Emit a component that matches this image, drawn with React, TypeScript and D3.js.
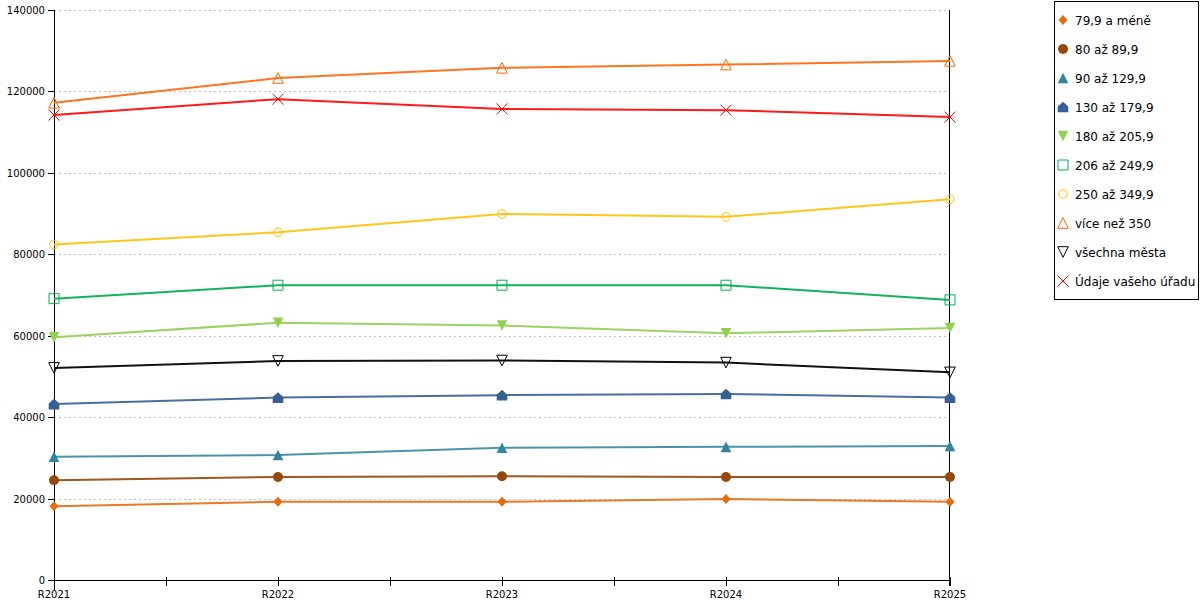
import { useEffect, useRef } from 'react';
import * as d3 from 'd3';

const years = ['R2021', 'R2022', 'R2023', 'R2024', 'R2025'];
const yTicks = [0, 20000, 40000, 60000, 80000, 100000, 120000, 140000];

const seriesNames = [
  '79,9 a méně',
  '80 až 89,9',
  '90 až 129,9',
  '130 až 179,9',
  '180 až 205,9',
  '206 až 249,9',
  '250 až 349,9',
  'více než 350',
  'všechna města',
  'Údaje vašeho úřadu',
];

const v79 = [18100, 19200, 19200, 19900, 19200];
const v80 = [24500, 25300, 25500, 25300, 25300];
const v90 = [30300, 30700, 32500, 32700, 32900];
const v130 = [43200, 44800, 45400, 45700, 44800];
const v180 = [59600, 63200, 62500, 60600, 61900];
const v206 = [69100, 72400, 72400, 72400, 68800];
const v250 = [82400, 85400, 89900, 89200, 93500];
const v350 = [117200, 123300, 125800, 126600, 127500];
const vAll = [52100, 53800, 53900, 53400, 51000];
const vOffice = [114200, 118100, 115700, 115400, 113700];

const seriesValues = [v79, v80, v90, v130, v180, v206, v250, v350, vAll, vOffice];
const seriesColors = [
  '#e46c0a', '#974706', '#31859c', '#376092', '#92d050',
  '#00b050', '#ffc000', '#ff6600', '#000000', '#ff0000',
];
const lineColors = [
  '#e8782a', '#a0561e', '#4a93a8', '#4a6f9c', '#9dd262',
  '#12b35c', '#ffc51a', '#ff7420', '#111111', '#ff1a1a',
];
const markerKinds = [
  'diamond', 'circle', 'triangle', 'house', 'triangleDown',
  'squareOpen', 'circleOpen', 'triangleOpen', 'triangleDownOpen', 'cross',
];

function markerPath(kind: string): string {
  const p = d3.path();
  switch (kind) {
    case 'diamond':
      p.moveTo(0, -5); p.lineTo(4.5, 0); p.lineTo(0, 5); p.lineTo(-4.5, 0); p.closePath();
      break;
    case 'circle':
      p.arc(0, 0, 5, 0, Math.PI * 2);
      break;
    case 'circleOpen':
      p.arc(0, 0, 4.3, 0, Math.PI * 2);
      break;
    case 'triangle':
    case 'triangleOpen':
      p.moveTo(0, -5.3); p.lineTo(5.3, 5.3); p.lineTo(-5.3, 5.3); p.closePath();
      break;
    case 'triangleDown':
    case 'triangleDownOpen':
      p.moveTo(-5.3, -5.3); p.lineTo(5.3, -5.3); p.lineTo(0, 5.3); p.closePath();
      break;
    case 'house':
      p.moveTo(0, -5.3); p.lineTo(5.3, -0.5); p.lineTo(5.3, 5.3); p.lineTo(-5.3, 5.3);
      p.lineTo(-5.3, -0.5); p.closePath();
      break;
    case 'squareOpen':
      p.rect(-5, -5, 10, 10);
      break;
    case 'cross':
      p.moveTo(-5.5, -5.5); p.lineTo(5.5, 5.5); p.moveTo(5.5, -5.5); p.lineTo(-5.5, 5.5);
      break;
  }
  return p.toString();
}

function isOpen(kind: string) {
  return kind.endsWith('Open') || kind === 'cross';
}

export default function App() {
  const svgRef = useRef<SVGSVGElement>(null);
  const width = 1200;
  const height = 600;

  useEffect(() => {
    if (!svgRef.current) return;
    const svg = d3.select(svgRef.current);
    svg.selectAll('*').remove();

    const x = d3.scalePoint<string>().domain(years).range([54, 950]);
    const y = d3.scaleLinear().domain([0, 140000]).range([580, 10]);
    const fontAxis = '"DejaVu Sans", sans-serif';

    svg.append('rect').attr('width', width).attr('height', height).attr('fill', '#fff');

    // gridlines
    svg.append('g')
      .selectAll('line')
      .data(yTicks.filter((t) => t > 0))
      .join('line')
      .attr('x1', 54)
      .attr('x2', 950)
      .attr('y1', (d) => Math.round(y(d)) + 0.5)
      .attr('y2', (d) => Math.round(y(d)) + 0.5)
      .attr('stroke', '#c0c0c0')
      .attr('stroke-dasharray', '2,3');

    // axes
    const axes = svg.append('g').attr('stroke', '#000').attr('stroke-width', 1);
    axes.append('line').attr('x1', 54.5).attr('x2', 54.5).attr('y1', 10).attr('y2', 590);
    axes.append('line').attr('x1', 949.5).attr('x2', 949.5).attr('y1', 10).attr('y2', 586);
    axes.append('line').attr('x1', 54).attr('x2', 950).attr('y1', 580.5).attr('y2', 580.5);

    axes.selectAll('.ytick')
      .data(yTicks)
      .join('line')
      .attr('x1', 48)
      .attr('x2', 54)
      .attr('y1', (d) => Math.round(y(d)) + 0.5)
      .attr('y2', (d) => Math.round(y(d)) + 0.5);

    const xs = years.map((c) => x(c) as number);
    const mids = xs.slice(1).map((v, i) => (v + xs[i]) / 2);
    axes.selectAll('.xtick')
      .data([...xs, ...mids])
      .join('line')
      .attr('x1', (d) => Math.round(d) + 0.5)
      .attr('x2', (d) => Math.round(d) + 0.5)
      .attr('y1', 577)
      .attr('y2', 586);

    svg.append('g')
      .selectAll('text')
      .data(yTicks)
      .join('text')
      .attr('x', 45)
      .attr('y', (d) => y(d) + 4)
      .attr('text-anchor', 'end')
      .attr('font-family', fontAxis)
      .attr('font-size', 10)
      .attr('fill', '#000')
      .text((d) => String(d));

    svg.append('g')
      .selectAll('text')
      .data(years)
      .join('text')
      .attr('x', (d) => x(d) as number)
      .attr('y', 598)
      .attr('text-anchor', 'middle')
      .attr('font-family', fontAxis)
      .attr('font-size', 10)
      .attr('fill', '#000')
      .text((d) => d);

    // series
    const line = d3
      .line<number>()
      .x((_, i) => x(years[i]) as number)
      .y((d) => y(d));

    seriesValues.forEach((vals, s) => {
      const g = svg.append('g');
      g.append('path')
        .datum(vals)
        .attr('fill', 'none')
        .attr('stroke', lineColors[s])
        .attr('stroke-width', 2)
        .attr('d', line);
      const kind = markerKinds[s];
      g.selectAll('path.m')
        .data(vals)
        .join('path')
        .attr('class', 'm')
        .attr('transform', (d, i) => `translate(${x(years[i])},${y(d)})`)
        .attr('d', markerPath(kind))
        .attr('fill', isOpen(kind) ? (kind === 'cross' ? 'none' : '#fff') : seriesColors[s])
        .attr('fill-opacity', isOpen(kind) ? 0 : 1)
        .attr('stroke', isOpen(kind) ? seriesColors[s] : 'none')
        .attr('stroke-width', 1);
    });

    // legend
    const legend = svg.append('g');
    legend.append('rect')
      .attr('x', 1054.5)
      .attr('y', 1.5)
      .attr('width', 144)
      .attr('height', 298)
      .attr('fill', '#fff')
      .attr('stroke', '#000');

    const items = legend.selectAll('g.item')
      .data(seriesNames)
      .join('g')
      .attr('class', 'item')
      .attr('transform', (_, i) => `translate(1063,${20 + i * 29})`);

    items.append('path')
      .attr('d', (_, i) => markerPath(markerKinds[i]))
      .attr('fill', (_, i) => (isOpen(markerKinds[i]) ? 'none' : seriesColors[i]))
      .attr('stroke', (_, i) => (isOpen(markerKinds[i]) ? seriesColors[i] : 'none'))
      .attr('stroke-width', 1);

    items.append('text')
      .attr('x', 12)
      .attr('y', 4.5)
      .attr('font-family', fontAxis)
      .attr('font-size', 12)
      .attr('fill', '#000')
      .text((d) => d);
  }, []);

  return (
    <div style={{ position: 'fixed', left: 0, top: 0, width, height, background: '#fff' }}>
      <svg ref={svgRef} width={width} height={height} style={{ display: 'block' }} />
    </div>
  );
}
